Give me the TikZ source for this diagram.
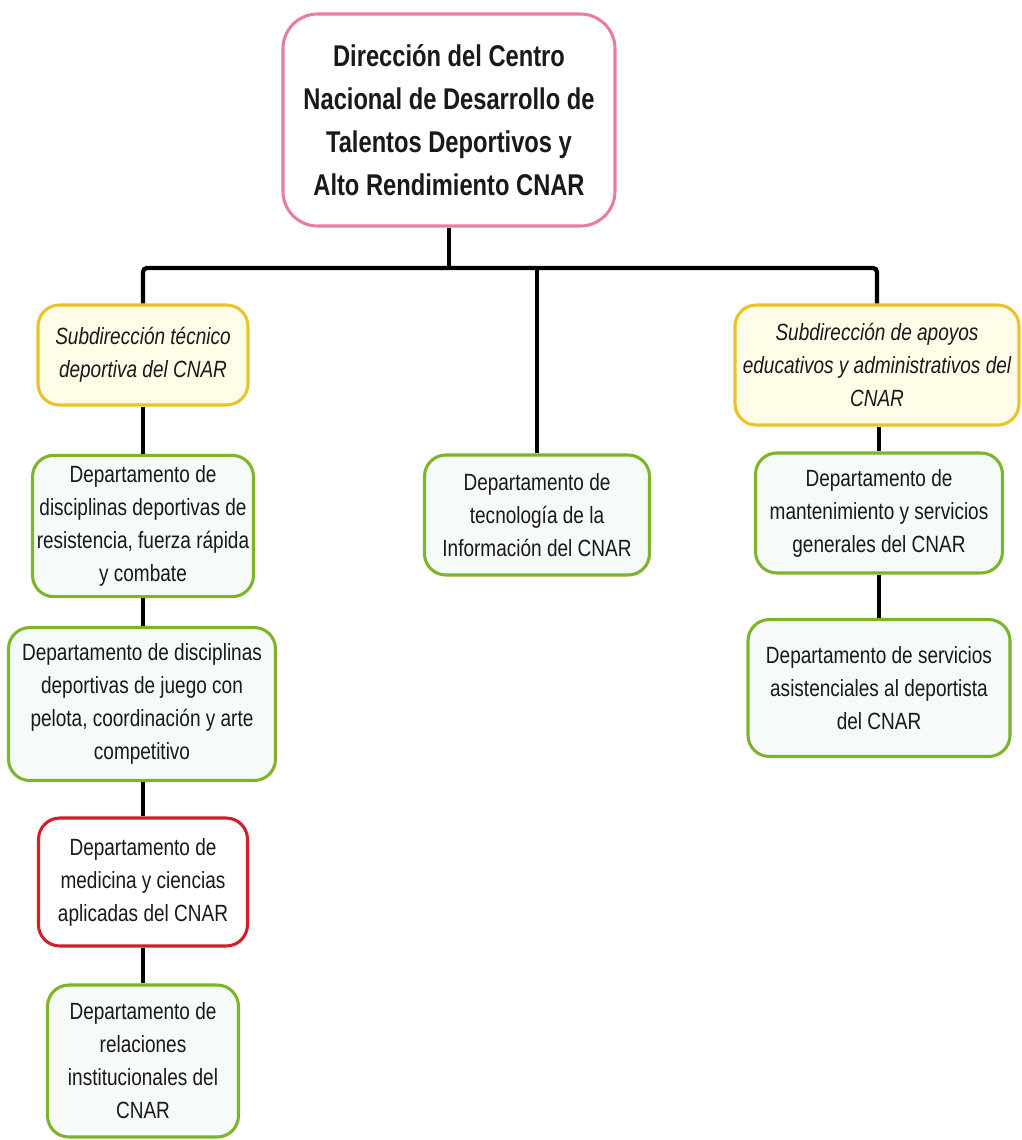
\documentclass[tikz,border=0pt]{standalone}
\usepackage{fontspec}
\setmainfont{Liberation Sans}[FakeStretch=0.81]
\newfontfamily\topfont{Liberation Sans}[FakeStretch=0.79]
\definecolor{pinkb}{RGB}{232,125,160}
\definecolor{yelb}{RGB}{235,195,40}
\definecolor{yelf}{RGB}{255,252,232}
\definecolor{grnb}{RGB}{125,180,40}
\definecolor{grnf}{RGB}{246,250,248}
\definecolor{redb}{RGB}{210,30,40}
\definecolor{txt}{RGB}{25,25,25}
\begin{document}
\begin{tikzpicture}[x=0.75pt,y=-0.75pt,
  basebox/.style={rectangle, rounded corners=16pt, line width=2.3pt, align=center, inner sep=0pt, text=txt,
    font=\fontsize{17.6pt}{24.75pt}\selectfont},
  topbox/.style={basebox, draw=pinkb, fill=white, rounded corners=26pt, font=\topfont\bfseries\fontsize{22.5pt}{32.25pt}\selectfont},
  yelbox/.style={basebox, draw=yelb, fill=yelf, font=\itshape\fontsize{17.6pt}{24.75pt}\selectfont},
  grnbox/.style={basebox, draw=grnb, fill=grnf},
  redbox/.style={basebox, draw=redb, fill=white},
  conn/.style={line width=3.2pt, black}]
\useasboundingbox (0,0) rectangle (1022,1140);
\fill[white] (0,0) rectangle (1022,1140);

\node[topbox, minimum width=249pt, minimum height=159pt] (top) at (449,120)
  {Dirección del Centro\\Nacional de Desarrollo de\\Talentos Deportivos y\\Alto Rendimiento CNAR};

\node[yelbox, minimum width=157.5pt, minimum height=75pt] (ly) at (143,355)
  {Subdirección técnico\\deportiva del CNAR};
\node[grnbox, minimum width=165.75pt, minimum height=106pt] (lg1) at (143,526)
  {Departamento de\\disciplinas deportivas de\\resistencia, fuerza rápida\\y combate};
\node[grnbox, minimum width=200.25pt, minimum height=114.75pt] (lg2) at (142,704)
  {Departamento de disciplinas\\deportivas de juego con\\pelota, coordinación y arte\\competitivo};
\node[redbox, minimum width=156.75pt, minimum height=96pt] (red) at (143,882)
  {Departamento de\\medicina y ciencias\\aplicadas del CNAR};
\node[grnbox, minimum width=143.25pt, minimum height=114pt] (lg4) at (143,1061)
  {Departamento de\\relaciones\\institucionales del\\CNAR};

\node[grnbox, minimum width=168.75pt, minimum height=90pt] (mid) at (537,515)
  {Departamento de\\tecnología de la\\Información del CNAR};

\node[yelbox, minimum width=213pt, minimum height=90pt] (ry) at (877,365)
  {Subdirección de apoyos\\educativos y administrativos del\\CNAR};
\node[grnbox, minimum width=185.25pt, minimum height=90pt] (rg1) at (879,513)
  {Departamento de\\mantenimiento y servicios\\generales del CNAR};
\node[grnbox, minimum width=196.5pt, minimum height=102.75pt] (rg2) at (879,688)
  {Departamento de servicios\\asistenciales al deportista\\del CNAR};

\coordinate (bus) at (500,268);
\draw[conn] (top.south) -- (top.south |- bus);
\draw[conn, rounded corners=3pt] (ly.north) -- (ly.north |- bus) -- (ry.north |- bus) -- (ry.north);
\draw[conn] (mid.north) -- (mid.north |- bus);
\draw[conn] (ly.south) -- (lg1.north);
\draw[conn] (lg1.south) -- (lg1.south |- lg2.north);
\draw[conn] (lg2.south -| red.north) -- (red.north);
\draw[conn] (red.south) -- (lg4.north);
\draw[conn] (ry.south -| rg1.north) -- (rg1.north);
\draw[conn] (rg1.south) -- (rg2.north);
\end{tikzpicture}
\end{document}
